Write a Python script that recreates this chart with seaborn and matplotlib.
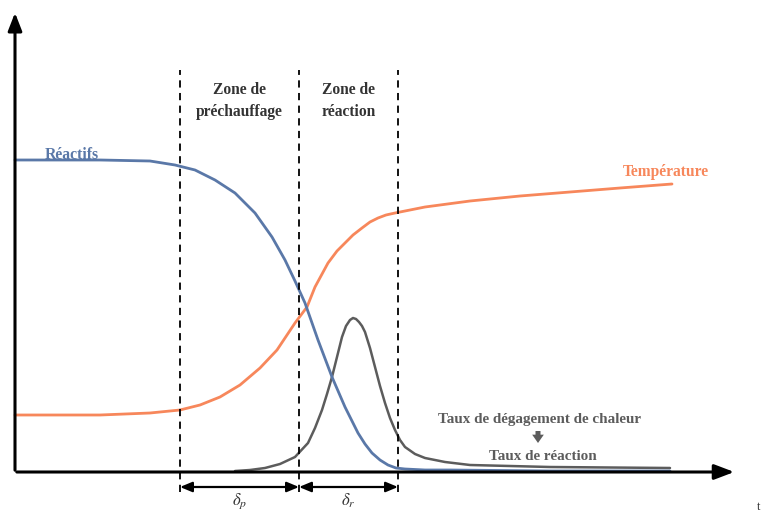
import matplotlib
matplotlib.use("Agg")
import matplotlib.pyplot as plt
import seaborn as sns
import pandas as pd

sns.set_theme(style="white")
plt.rcParams["font.family"] = ["Liberation Serif", "DejaVu Serif"]
plt.rcParams["mathtext.fontset"] = "stix"

# Abscissa (position through the flame, arbitrary units) and curve levels
reactifs_x = [0, 85, 135, 160, 180, 200, 220, 240, 257, 270, 280, 290, 303, 317, 330, 337, 343, 350, 357, 365, 373, 381, 390, 410, 435, 535, 655]
reactifs_y = [312, 312, 311, 307, 302, 292, 279, 259, 235, 212, 191, 169, 132, 95, 65, 51, 39, 28, 19, 12, 7, 4, 3, 2, 2, 1, 1]

temp_x = [0, 85, 135, 165, 185, 205, 225, 245, 262, 280, 292, 300, 313, 322, 330, 338, 347, 355, 363, 371, 380, 395, 410, 455, 505, 555, 605, 657]
temp_y = [57, 57, 59, 62, 67, 75, 87, 104, 122, 149, 165, 185, 209, 221, 229, 237, 244, 250, 254, 257, 259, 262, 265, 271, 276, 280, 284, 288]

taux_x = [220, 235, 250, 265, 280, 293, 300, 307, 312, 317, 322, 327, 331, 335, 338, 341, 344, 347, 350, 355, 360, 365, 370, 375, 380, 385, 390, 400, 410, 430, 455, 535, 655]
taux_y = [1, 2, 4, 8, 15, 29, 44, 62, 78, 95, 115, 135, 146, 152, 154, 153, 150, 146, 140, 124, 105, 86, 69, 54, 42, 32, 25, 18, 14, 10, 7, 5, 4]

zone_bounds = [165, 284, 383]
zone_labels = ["Zone de\npréchauffage", "Zone de\nréaction"]
delta_labels = [r"$\delta_p$", r"$\delta_r$"]

BLUE = "#5a78a8"
ORANGE = "#f7875b"
GREY = "#5c5c5c"

fig = plt.figure(figsize=(7.63, 5.17), dpi=100)
ax = fig.add_axes([0, 0, 1, 1])
ax.set_xlim(-15, 748)
ax.set_ylim(-45, 472)
ax.axis("off")

df_r = pd.DataFrame({"x": reactifs_x, "y": reactifs_y})
df_t = pd.DataFrame({"x": temp_x, "y": temp_y})
df_q = pd.DataFrame({"x": taux_x, "y": taux_y})

line_kw = dict(solid_joinstyle="round", solid_capstyle="round")
sns.lineplot(data=df_t, x="x", y="y", ax=ax, color=ORANGE, lw=2.0, **line_kw)
sns.lineplot(data=df_q, x="x", y="y", ax=ax, color=GREY, lw=1.8, **line_kw)
sns.lineplot(data=df_r, x="x", y="y", ax=ax, color=BLUE, lw=2.0, **line_kw)

# axes with arrowheads
ax.annotate("", xy=(722, 0), xytext=(-1, 0),
            arrowprops=dict(arrowstyle="-|>,head_length=1.0,head_width=0.38", color="black", lw=2.2))
ax.annotate("", xy=(0, 462), xytext=(0, -1),
            arrowprops=dict(arrowstyle="-|>,head_length=0.9,head_width=0.35", color="black", lw=2.2))

# zone boundaries
for xb in zone_bounds:
    ax.plot([xb, xb], [-20, 402], color="black", lw=1.3, ls=(0, (4, 3)))

# zone titles
for i, lab in enumerate(zone_labels):
    xc = (zone_bounds[i] + zone_bounds[i + 1]) / 2
    ax.text(xc, 371, lab, ha="center", va="center", fontsize=11.2,
            fontweight="bold", color="#333333", linespacing=1.5)

# thickness arrows
for i, lab in enumerate(delta_labels):
    x0, x1 = zone_bounds[i], zone_bounds[i + 1]
    ax.annotate("", xy=(x0, -15), xytext=(x1, -15),
                arrowprops=dict(arrowstyle="<|-|>,head_length=0.6,head_width=0.25",
                                color="black", lw=1.6, shrinkA=0, shrinkB=0))
    ax.text((x0 + x1) / 2, -29, lab, ha="center", va="center", fontsize=12, color="#333333")

# curve labels
ax.text(30, 317, "Réactifs", fontsize=11.3, fontweight="bold", color=BLUE, va="center")
ax.text(608, 300, "Température", fontsize=11.2, fontweight="bold", color=ORANGE, va="center")
ax.text(525, 52, "Taux de dégagement de chaleur", fontsize=10.9, fontweight="bold",
        color=GREY, ha="center", va="center")
ax.annotate("", xy=(523, 29), xytext=(523, 41),
            arrowprops=dict(arrowstyle="simple,head_length=0.5,head_width=0.7,tail_width=0.3",
                            color=GREY, lw=0, shrinkA=0, shrinkB=0))
ax.text(528, 16, "Taux de réaction", fontsize=10.9, fontweight="bold",
        color=GREY, ha="center", va="center")

ax.text(742, -35, "t", fontsize=9, color="#333333", ha="left", va="center")

fig.savefig("out.png", dpi=100)
